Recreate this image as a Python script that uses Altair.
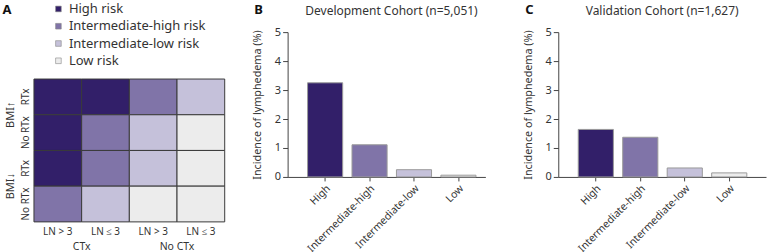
import altair as alt
import pandas as pd

FONT = "Noto Sans"
TXT = "#333333"

# ---- data ----
risk_names = ["High risk", "Intermediate-high risk", "Intermediate-low risk", "Low risk"]
risk_colors = ["#321f69", "#8074a8", "#c5c1da", "#ececec"]

heat_rows = ["BMI↑|RTx", "BMI↑|No RTx", "BMI↓|RTx", "BMI↓|No RTx"]
heat_cols = ["CTx|LN > 3", "CTx|LN ≤ 3", "No CTx|LN > 3", "No CTx|LN ≤ 3"]
heat_grid = [
    ["High risk", "High risk", "Intermediate-high risk", "Intermediate-low risk"],
    ["High risk", "Intermediate-high risk", "Intermediate-low risk", "Low risk"],
    ["High risk", "Intermediate-high risk", "Intermediate-low risk", "Low risk"],
    ["Intermediate-high risk", "Intermediate-low risk", "Low risk", "Low risk"],
]
col_groups = ["CTx", "No CTx"]
row_groups = ["BMI↑", "BMI↓"]

bar_cats = ["High", "Intermediate-high", "Intermediate-low", "Low"]
dev_vals = [3.25, 1.11, 0.25, 0.06]
val_vals = [1.64, 1.37, 0.31, 0.14]

# ---- panel A ----
heat_df = pd.DataFrame(
    [{"row": r, "col": c, "risk": heat_grid[i][j]}
     for i, r in enumerate(heat_rows) for j, c in enumerate(heat_cols)]
)
xg_df = pd.DataFrame({"label": col_groups, "col": [heat_cols[0], heat_cols[2]]})
yg_df = pd.DataFrame({"label": row_groups, "row": [heat_rows[0], heat_rows[2]]})

xscale = alt.Scale(paddingInner=0, paddingOuter=0)
# rows pushed to the bottom of a taller view: the legend sits in the free band above them
yscale = alt.Scale(paddingInner=0, paddingOuter=0.657, align=1)

rect = alt.Chart(heat_df).mark_rect(stroke="#3a3a3a", strokeWidth=1).encode(
    x=alt.X("col:N", sort=heat_cols, scale=xscale,
            axis=alt.Axis(title=None, labelExpr="split(datum.value,'|')[1]", labelAngle=0,
                          ticks=False, domain=False, labelPadding=5, labelFontSize=10,
                          labelColor=TXT, labelFont=FONT)),
    y=alt.Y("row:N", sort=heat_rows, scale=yscale,
            axis=alt.Axis(title=None, labelExpr="split(datum.value,'|')[1]", labelAngle=270,
                          labelAlign="center", labelBaseline="bottom", ticks=False,
                          domain=False, labelPadding=3, labelFontSize=10,
                          labelColor=TXT, labelFont=FONT)),
    color=alt.Color("risk:N", scale=alt.Scale(domain=risk_names, range=risk_colors),
                    legend=alt.Legend(title=None, orient="none", legendX=18, legendY=-29.7,
                                      symbolType="square", symbolSize=32,
                                      symbolStrokeColor="#888888", symbolStrokeWidth=0.6,
                                      labelFontSize=13, labelColor=TXT, labelFont=FONT,
                                      labelOffset=4, rowPadding=3.3, padding=0)),
)

xg_text = alt.Chart(xg_df).mark_text(fontSize=10.5, font=FONT, color=TXT, baseline="middle").encode(
    x=alt.X("col:N", sort=heat_cols, bandPosition=1),
    y=alt.value(215.5),
    text="label:N",
)
yg_text = alt.Chart(yg_df).mark_text(fontSize=11, font=FONT, color=TXT, baseline="middle",
                                     angle=270).encode(
    y=alt.Y("row:N", sort=heat_rows, bandPosition=1),
    x=alt.value(-23),
    text="label:N",
)
letter_a = alt.Chart(pd.DataFrame({"t": ["A"]})).mark_text(
    fontSize=13, fontWeight="bold", font=FONT, color="#111111", baseline="middle").encode(
    x=alt.value(-27), y=alt.value(-22.5), text="t:N")

panel_a = alt.layer(rect, xg_text, yg_text, letter_a).properties(width=191, height=190)


# ---- panels B and C ----
def bar_panel(vals, title, letter, width, pad_outer, align, title_x):
    df = pd.DataFrame({"cat": bar_cats, "val": vals})
    bars = alt.Chart(df).mark_bar(stroke="#9a9a9a", strokeWidth=1).encode(
        x=alt.X("cat:N", sort=bar_cats,
                scale=alt.Scale(paddingInner=0.21, paddingOuter=pad_outer, align=align),
                axis=alt.Axis(title=None, labelAngle=315, labelAlign="right", labelBaseline="top",
                              labelFontSize=10.5, labelColor=TXT, labelFont=FONT,
                              tickSize=4, tickColor="#444444", domainColor="#444444",
                              labelPadding=2)),
        y=alt.Y("val:Q", scale=alt.Scale(domain=[0, 5]),
                axis=alt.Axis(values=[0, 1, 2, 3, 4, 5], grid=False,
                              title="Incidence of lymphedema (%)", titleFontSize=10.8,
                              titleFontWeight="normal", titleColor=TXT, titleFont=FONT,
                              titlePadding=12, labelFontSize=11, labelColor=TXT,
                              labelFont=FONT, tickSize=5, tickColor="#444444",
                              domainColor="#444444", labelPadding=2)),
        color=alt.Color("cat:N", scale=alt.Scale(domain=bar_cats, range=risk_colors), legend=None),
    )
    let = alt.Chart(pd.DataFrame({"t": [letter]})).mark_text(
        fontSize=13, fontWeight="bold", font=FONT, color="#111111", baseline="middle").encode(
        x=alt.value(-29), y=alt.value(-22.5), text="t:N")
    ttl = alt.Chart(pd.DataFrame({"t": [title]})).mark_text(
        fontSize=12, font=FONT, color=TXT, baseline="middle", align="center").encode(
        x=alt.value(title_x), y=alt.value(-21.5), text="t:N")
    return alt.layer(bars, let, ttl).properties(width=width, height=145)


panel_b = bar_panel(dev_vals, "Development Cohort (n=5,051)", "B", 198, 0.33, 0.68, 104)
panel_c = bar_panel(val_vals, "Validation Cohort (n=1,627)", "C", 208, 0.44, 0.51, 104)

bc = alt.hconcat(panel_b, panel_c, spacing=35).resolve_scale(color="independent")

chart = alt.hconcat(panel_a, bc, spacing=25).resolve_scale(
    color="independent").resolve_legend(color="independent").properties(
    padding={"left": 2, "top": 1, "right": 0, "bottom": 0}
).configure_view(stroke="transparent")

chart.save("out.html", embed_options={"renderer": "svg", "actions": False})
